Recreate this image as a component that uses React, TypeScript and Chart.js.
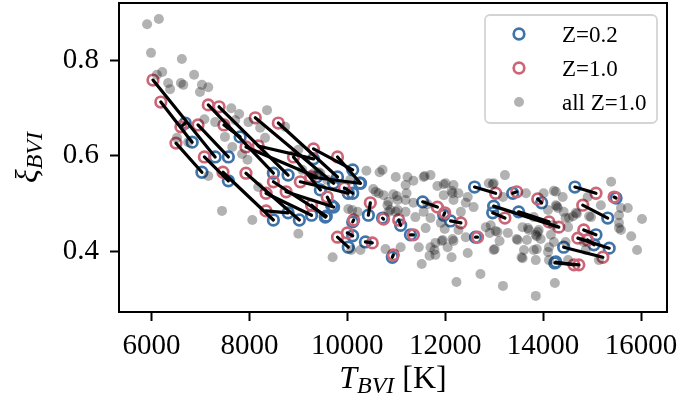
import { useEffect, useRef } from "react";
import { Chart, registerables } from "chart.js";

Chart.register(...registerables);

// Paired models: index i of the Z=1.0 arrays matches index i of the Z=0.2 arrays
const z10Temp = [
  6030, 6190, 6600, 6500, 6950, 7080, 7160, 7380, 7480, 7930, 8180, 8120, 8590, 7460,
  7930, 8340, 8490, 8750, 9040, 9250, 8900, 9310, 9800, 8340, 9940, 9270, 10470, 10130,
  11050, 9800, 10000, 10510, 10940, 11350, 11840, 11990, 12320, 12660, 10740, 9590,
  13030, 13460, 13890, 14320, 13220, 14120, 15080, 15450, 14810, 14830, 14710, 15220,
  14730, 14630, 14910,
];
const z10Xi = [
  0.758, 0.712, 0.66, 0.626, 0.664, 0.597, 0.706, 0.702, 0.664, 0.618, 0.62, 0.679, 0.668,
  0.565, 0.563, 0.521, 0.545, 0.524, 0.545, 0.555, 0.597, 0.614, 0.597, 0.484, 0.532, 0.496,
  0.501, 0.465, 0.465, 0.429, 0.438, 0.417, 0.392, 0.434, 0.492, 0.48, 0.459, 0.429, 0.467,
  0.513, 0.521, 0.524, 0.509, 0.45, 0.469, 0.461, 0.521, 0.513, 0.496, 0.444, 0.427, 0.387,
  0.371, 0.371, 0.423,
];
const z02Temp = [
  7300, 6830, 6690, 7030, 7570, 7570, 8490, 8790, 7810, 9370, 9310, 9720, 9800, 8490,
  9020, 9270, 9570, 9720, 10020, 10250, 9450, 10110, 10270, 8790, 10110, 9550, 10430, 10110,
  11090, 10020, 10110, 10370, 10920, 11290, 11540, 11970, 12110, 12620, 10720, 9680,
  12600, 13380, 13970, 12990, 12970, 13500, 14650, 15490, 15320, 15080, 15350, 14420,
  14240, 14260, 15040,
];
const z02Xi = [
  0.597, 0.628, 0.668, 0.565, 0.597, 0.547, 0.563, 0.559, 0.639, 0.555, 0.593, 0.542, 0.555,
  0.465, 0.465, 0.475, 0.473, 0.492, 0.521, 0.542, 0.528, 0.57, 0.542, 0.48, 0.521, 0.471,
  0.475, 0.461, 0.454, 0.408, 0.432, 0.419, 0.387, 0.434, 0.503, 0.475, 0.463, 0.429, 0.469,
  0.495, 0.534, 0.521, 0.501, 0.494, 0.48, 0.482, 0.534, 0.511, 0.469, 0.434, 0.406, 0.408,
  0.375, 0.377, 0.413,
];

// Full Z=1.0 grid
const allTemp = [
  5910, 6150, 5990, 6620, 6220, 6110, 6870, 6340, 6380, 6600, 6650, 7030, 7160, 6990, 7630,
  7790, 8360, 7080, 7300, 7710, 7980, 8220, 8730, 7500, 8320, 7650, 7850, 6520, 6750, 9000,
  9450, 9590, 9080, 9310, 7960, 7160, 7440, 8060, 9000, 9700, 10080, 10270, 10780, 10390,
  10580, 10740, 11010, 10990, 8180, 10020, 10210, 10840, 11030, 9410, 10060, 10660, 11230,
  11350, 11560, 11580, 11700, 11190, 11840, 12010, 11970, 12170, 12150, 12130, 10530, 10640,
  10940, 11030, 11190, 11350, 10820, 11190, 11390, 11560, 10990, 11600, 10100, 11090, 11460,
  11800, 11950, 11930, 12150, 12170, 12270, 11990, 12420, 11680, 11780, 12130, 12460, 11520,
  12230, 12720, 12580, 12420, 12170, 12270, 12460, 12830, 12890, 11210, 10840, 11640, 10880,
  11970, 11700, 11910, 12320, 12050, 11700, 11800, 13180, 13850, 14240, 13220, 12990, 12970,
  12930, 13070, 13030, 12990, 13010, 13280, 13480, 13460, 13610, 13810, 13890, 13690, 13580,
  13850, 13810, 14220, 14400, 14300, 14460, 14610, 14200, 14160, 14220, 14100, 14980, 15180,
  15390, 15590, 15730, 15550, 15800, 16020, 15920, 15140, 14870, 14510, 13180, 13650, 14010,
  14260, 14100, 14260, 14280, 14420, 14670, 14690, 14530, 14510, 13910, 13850, 13870, 13710,
  13580, 12910, 13110, 13670, 13950, 14120, 14460, 13560, 13870, 14120, 14940, 15550, 15590,
  15550, 14910, 14830, 10720,
];
const allXi = [
  0.875, 0.886, 0.815, 0.802, 0.775, 0.769, 0.769, 0.752, 0.739, 0.752, 0.748, 0.748, 0.743,
  0.733, 0.699, 0.687, 0.695, 0.676, 0.67, 0.674, 0.67, 0.658, 0.66, 0.639, 0.637, 0.618,
  0.603, 0.637, 0.628, 0.612, 0.563, 0.549, 0.57, 0.563, 0.591, 0.557, 0.484, 0.465, 0.436,
  0.387, 0.402, 0.402, 0.404, 0.568, 0.524, 0.517, 0.515, 0.555, 0.534, 0.488, 0.482, 0.482,
  0.486, 0.565, 0.549, 0.565, 0.555, 0.547, 0.555, 0.557, 0.559, 0.538, 0.536, 0.542, 0.54,
  0.538, 0.521, 0.526, 0.53, 0.521, 0.519, 0.507, 0.507, 0.501, 0.496, 0.482, 0.471, 0.482,
  0.482, 0.448, 0.486, 0.408, 0.408, 0.417, 0.423, 0.421, 0.425, 0.421, 0.444, 0.446, 0.429,
  0.39, 0.402, 0.387, 0.396, 0.373, 0.335, 0.352, 0.492, 0.501, 0.507, 0.521, 0.513, 0.45,
  0.542, 0.521, 0.503, 0.498, 0.486, 0.517, 0.469, 0.459, 0.482, 0.408, 0.408, 0.392, 0.327,
  0.306, 0.333, 0.559, 0.542, 0.54, 0.454, 0.44, 0.442, 0.402, 0.404, 0.438, 0.423, 0.425,
  0.402, 0.402, 0.44, 0.448, 0.385, 0.381, 0.471, 0.526, 0.513, 0.49, 0.469, 0.473, 0.454,
  0.434, 0.419, 0.398, 0.471, 0.496, 0.545, 0.49, 0.49, 0.448, 0.431, 0.467, 0.402, 0.381,
  0.402, 0.381, 0.513, 0.521, 0.521, 0.524, 0.486, 0.496, 0.494, 0.482, 0.48, 0.478, 0.469,
  0.45, 0.444, 0.434, 0.431, 0.444, 0.45, 0.438, 0.421, 0.423, 0.425, 0.408, 0.419, 0.387,
  0.404, 0.381, 0.473, 0.459, 0.444, 0.475, 0.513, 0.419, 0.57,
];

const xTicks = [6000, 8000, 10000, 12000, 14000, 16000];
const yTicks = [0.4, 0.6, 0.8];
const legendLabels = ["Z=0.2", "Z=1.0", "all Z=1.0"];

const BLUE = "#3f74ab";
const RED = "#cc6677";
const GREY = "rgba(0,0,0,0.3)";
const SERIF = "'Liberation Serif', 'DejaVu Serif', serif";

type Part = { t: string; size: number; italic: boolean; dy: number };

function drawParts(ctx: CanvasRenderingContext2D, parts: Part[], cx: number, baseline: number) {
  const font = (p: Part) => `${p.italic ? "italic " : ""}${p.size}px ${SERIF}`;
  let total = 0;
  for (const p of parts) {
    ctx.font = font(p);
    total += ctx.measureText(p.t).width;
  }
  let x = cx - total / 2;
  ctx.textAlign = "left";
  ctx.textBaseline = "alphabetic";
  for (const p of parts) {
    ctx.font = font(p);
    ctx.fillText(p.t, x, baseline + p.dy);
    x += ctx.measureText(p.t).width;
  }
}

const titlesPlugin = {
  id: "axisTitles",
  afterDraw(chart: Chart) {
    const { ctx, chartArea: a } = chart;
    ctx.save();
    ctx.fillStyle = "#000";
    drawParts(
      ctx,
      [
        { t: "T", size: 32, italic: true, dy: 0 },
        { t: "BVI", size: 24, italic: true, dy: 5 },
        { t: " [K]", size: 32, italic: false, dy: 0 },
      ],
      (a.left + a.right) / 2,
      388
    );
    ctx.translate(37, (a.top + a.bottom) / 2);
    ctx.rotate(-Math.PI / 2);
    drawParts(
      ctx,
      [
        { t: "ξ", size: 32, italic: true, dy: 0 },
        { t: "BVI", size: 24, italic: true, dy: 5 },
      ],
      0,
      0
    );
    ctx.restore();
  },
};

const framePlugin = {
  id: "frame",
  afterDatasetsDraw(chart: Chart) {
    const { ctx, chartArea: a } = chart;
    ctx.save();
    ctx.strokeStyle = "#000";
    ctx.lineWidth = 2;
    ctx.strokeRect(a.left, a.top, a.right - a.left, a.bottom - a.top);
    ctx.restore();
  },
};

const legendPlugin = {
  id: "boxLegend",
  afterDraw(chart: Chart) {
    const { ctx, chartArea: a } = chart;
    const w = 172;
    const h = 108;
    const x0 = a.right - 10 - w;
    const y0 = a.top + 12;
    const r = 5;
    ctx.save();
    ctx.beginPath();
    ctx.moveTo(x0 + r, y0);
    ctx.arcTo(x0 + w, y0, x0 + w, y0 + h, r);
    ctx.arcTo(x0 + w, y0 + h, x0, y0 + h, r);
    ctx.arcTo(x0, y0 + h, x0, y0, r);
    ctx.arcTo(x0, y0, x0 + w, y0, r);
    ctx.closePath();
    ctx.fillStyle = "rgba(255,255,255,0.8)";
    ctx.fill();
    ctx.strokeStyle = "#d4d4d4";
    ctx.lineWidth = 1.8;
    ctx.stroke();

    const mx = x0 + 34;
    const tx = x0 + 77;
    legendLabels.forEach((label, i) => {
      const cy = y0 + 19 + i * 34;
      ctx.beginPath();
      if (i < 2) {
        ctx.arc(mx, cy, 5.3, 0, Math.PI * 2);
        ctx.strokeStyle = i === 0 ? BLUE : RED;
        ctx.lineWidth = 2.7;
        ctx.stroke();
      } else {
        ctx.arc(mx, cy, 5, 0, Math.PI * 2);
        ctx.fillStyle = GREY;
        ctx.fill();
      }
      ctx.fillStyle = "#000";
      ctx.font = `23px ${SERIF}`;
      ctx.textAlign = "left";
      ctx.textBaseline = "alphabetic";
      ctx.fillText(label, tx, cy + 7.5);
    });
    ctx.restore();
  },
};

const fixedScaleFit = (size: number) => (axis: any) => {
  if (axis.isHorizontal()) axis.height = size;
  else axis.width = size;
  axis.paddingTop = 0;
  axis.paddingBottom = 0;
  axis.paddingLeft = 0;
  axis.paddingRight = 0;
};

export default function App() {
  const ref = useRef<HTMLCanvasElement>(null);

  useEffect(() => {
    const canvas = ref.current;
    if (!canvas) return;

    const pairLines = z10Temp.map((t, i) => ({
      label: `pair ${i}`,
      data: [
        { x: t, y: z10Xi[i] },
        { x: z02Temp[i], y: z02Xi[i] },
      ],
      showLine: true,
      borderColor: "#000",
      borderWidth: 3.2,
      borderCapStyle: "round" as const,
      pointRadius: 0,
      pointHoverRadius: 0,
    }));

    const chart = new Chart(canvas, {
      type: "scatter",
      data: {
        datasets: [
          ...pairLines,
          {
            label: "all Z=1.0",
            data: allTemp.map((t, i) => ({ x: t, y: allXi[i] })),
            pointRadius: 5,
            pointBorderWidth: 0,
            pointBackgroundColor: GREY,
            borderColor: "transparent",
          },
          {
            label: "Z=1.0",
            data: z10Temp.map((t, i) => ({ x: t, y: z10Xi[i] })),
            pointRadius: 5.3,
            pointBorderWidth: 2.7,
            pointBorderColor: RED,
            pointBackgroundColor: "transparent",
          },
          {
            label: "Z=0.2",
            data: z02Temp.map((t, i) => ({ x: t, y: z02Xi[i] })),
            pointRadius: 5.3,
            pointBorderWidth: 2.7,
            pointBorderColor: BLUE,
            pointBackgroundColor: "transparent",
          },
        ],
      },
      options: {
        responsive: false,
        animation: false,
        devicePixelRatio: 1,
        events: [],
        layout: { autoPadding: false, padding: { top: 3, right: 11, left: 0, bottom: 0 } },
        plugins: {
          legend: { display: false },
          tooltip: { enabled: false },
        },
        scales: {
          x: {
            type: "linear",
            min: 5336,
            max: 16531,
            border: { display: false },
            grid: {
              drawOnChartArea: false,
              drawTicks: true,
              tickLength: 9,
              tickWidth: 2,
              tickColor: "#000",
            },
            ticks: {
              color: "#000",
              font: { family: SERIF, size: 29 },
              padding: 8,
              maxRotation: 0,
              callback: (v) => String(v),
            },
            afterBuildTicks: (axis) => {
              axis.ticks = xTicks.map((v) => ({ value: v }));
            },
            afterFit: fixedScaleFit(89),
          },
          y: {
            type: "linear",
            min: 0.2723,
            max: 0.9194,
            border: { display: false },
            grid: {
              drawOnChartArea: false,
              drawTicks: true,
              tickLength: 9,
              tickWidth: 2,
              tickColor: "#000",
            },
            ticks: {
              color: "#000",
              font: { family: SERIF, size: 29 },
              padding: 11,
              callback: (v) => Number(v).toFixed(1),
            },
            afterBuildTicks: (axis) => {
              axis.ticks = yTicks.map((v) => ({ value: v }));
            },
            afterFit: fixedScaleFit(119),
          },
        },
      },
      plugins: [framePlugin, titlesPlugin, legendPlugin],
    });

    return () => chart.destroy();
  }, []);

  return (
    <div
      style={{
        position: "fixed",
        left: 0,
        top: 0,
        width: 678,
        height: 401,
        background: "#fff",
      }}
    >
      <canvas ref={ref} width={678} height={401} style={{ display: "block", width: 678, height: 401 }} />
    </div>
  );
}
